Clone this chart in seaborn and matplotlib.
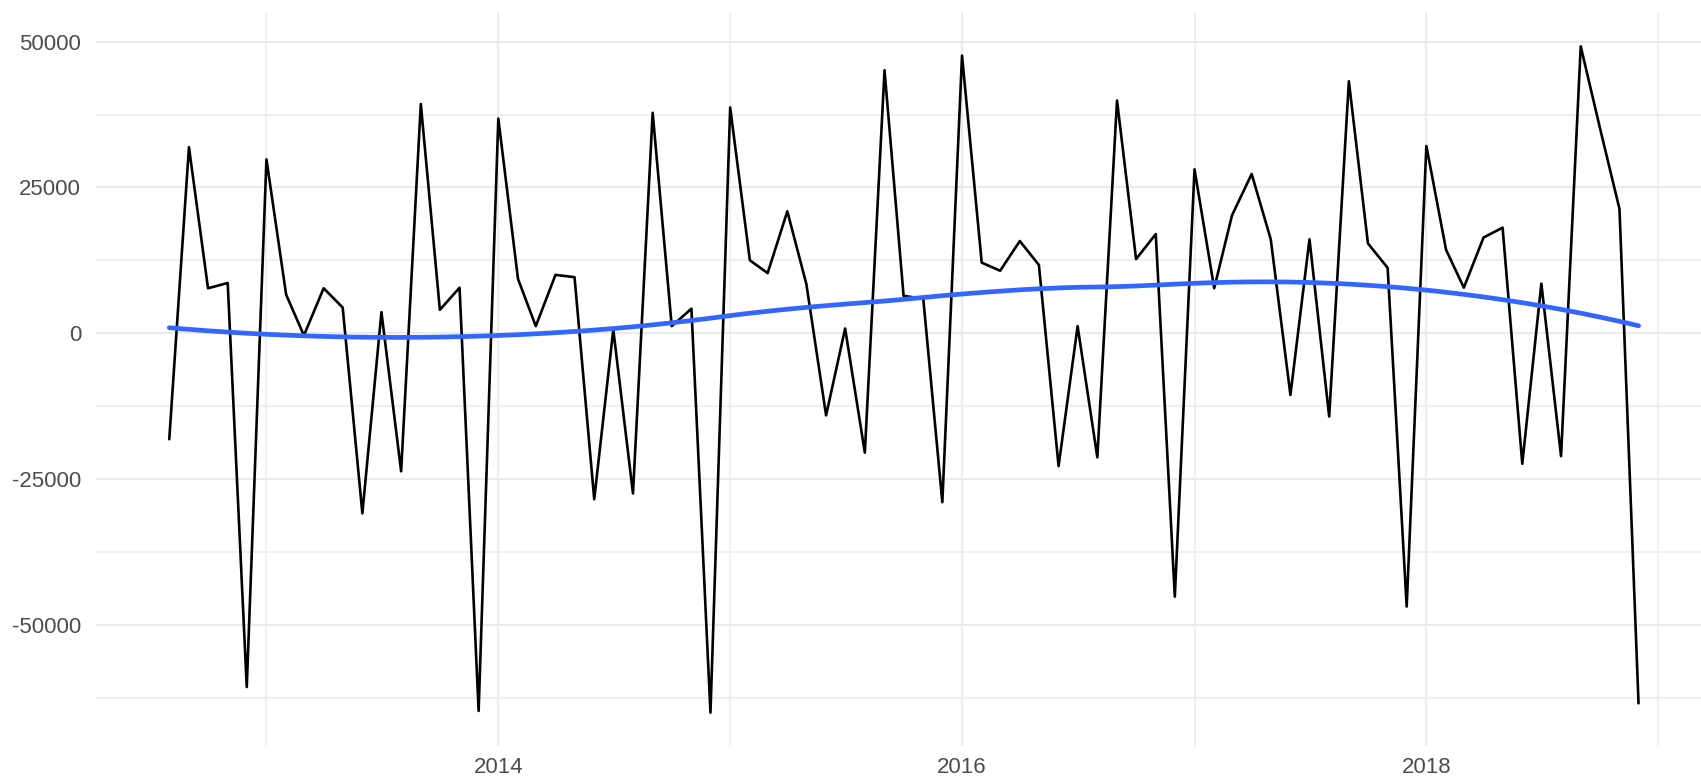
import numpy as np
import pandas as pd
import matplotlib
matplotlib.use("Agg")
import matplotlib.pyplot as plt
import matplotlib.dates as mdates
import seaborn as sns

# ---- data (monthly, Aug 2012 .. Dec 2018) ----
start_month = "2012-08-01"
values = [
    -18200, 31900, 7700, 8600, -60700,                                  # 2012 Aug-Dec
    29800, 6600, -400, 7700, 4400, -30900, 3600, -23700, 39300, 4000, 7800, -64800,   # 2013
    36800, 9300, 1200, 10000, 9600, -28500, 600, -27500, 37800, 1200, 4200, -65100,   # 2014
    38700, 12500, 10300, 20900, 8400, -14100, 800, -20500, 45100, 6400, 5900, -29000, # 2015
    47600, 12100, 10700, 15800, 11700, -22800, 1200, -21300, 39900, 12700, 17000, -45200, # 2016
    28100, 7700, 20200, 27300, 16100, -10600, 16100, -14300, 43200, 15400, 11200, -46900, # 2017
    32100, 14300, 7800, 16400, 18100, -22400, 8500, -21100, 49200, 35300, 21300, -63500,  # 2018
]
dates = pd.date_range(start_month, periods=len(values), freq="MS")
df = pd.DataFrame({"date": dates, "value": values})

y_major = [-50000, -25000, 0, 25000, 50000]
y_minor = [-62500, -37500, -12500, 12500, 37500]
x_major_years = [2014, 2016, 2018]
x_minor_years = [2013, 2015, 2017, 2019]


def loess(x, y, xout, span=0.75):
    x = np.asarray(x, float); y = np.asarray(y, float)
    n = len(x); q = int(np.floor(n * span))
    out = []
    for x0 in xout:
        d = np.abs(x - x0)
        h = np.sort(d)[q - 1]
        w = np.clip(1 - (d / h) ** 3, 0, None) ** 3
        X = np.column_stack([np.ones(n), x - x0, (x - x0) ** 2])
        W = np.sqrt(w)
        beta, *_ = np.linalg.lstsq(X * W[:, None], y * W, rcond=None)
        out.append(beta[0])
    return np.array(out)


xnum = mdates.date2num(df["date"])
xs = np.linspace(xnum.min(), xnum.max(), 80)
ys = loess(xnum, df["value"].values, xs)
smooth = pd.DataFrame({"date": mdates.num2date(xs), "value": ys})

# ---- figure ----
W, H, DPI = 1701, 779, 100
sns.set_theme(style="white")
plt.rcParams["font.family"] = ["Liberation Sans", "DejaVu Sans"]
fig = plt.figure(figsize=(W / DPI, H / DPI), dpi=DPI)
left, right, top, bottom = 95.8, 1712, 13, 746
ax = fig.add_axes([left / W, 1 - bottom / H, (right - left) / W, (bottom - top) / H])

sns.lineplot(data=df, x="date", y="value", ax=ax, color="black", linewidth=1.9, zorder=3)
sns.lineplot(data=smooth, x="date", y="value", ax=ax, color="#3366FF", linewidth=3.4, zorder=4)

# limits with ggplot-like 5% expansion
xr = xnum.max() - xnum.min()
ax.set_xlim(xnum.min() - 0.05 * xr, xnum.max() + 0.05 * xr)
vmin, vmax = min(values), max(values)
yr = vmax - vmin
ax.set_ylim(vmin - 0.05 * yr, vmax + 0.05 * yr)

ax.set_xticks([mdates.date2num(pd.Timestamp(f"{y}-01-01")) for y in x_major_years])
ax.set_xticklabels([str(y) for y in x_major_years])
ax.set_xticks([mdates.date2num(pd.Timestamp(f"{y}-01-01")) for y in x_minor_years], minor=True)
ax.set_yticks(y_major)
ax.set_yticklabels([str(v) for v in y_major])
ax.set_yticks(y_minor, minor=True)

ax.grid(which="major", color="#EBEBEB", linewidth=1.5)
ax.grid(which="minor", color="#EBEBEB", linewidth=1.1)
ax.set_axisbelow(True)
for s in ax.spines.values():
    s.set_visible(False)
ax.tick_params(which="both", length=0)
ax.tick_params(axis="y", pad=10.5, labelsize=16, labelcolor="#4D4D4D")
ax.tick_params(axis="x", pad=8, labelsize=16, labelcolor="#4D4D4D")
ax.set_xlabel("")
ax.set_ylabel("")
if ax.get_legend():
    ax.get_legend().remove()

fig.savefig("out.png", dpi=DPI)
